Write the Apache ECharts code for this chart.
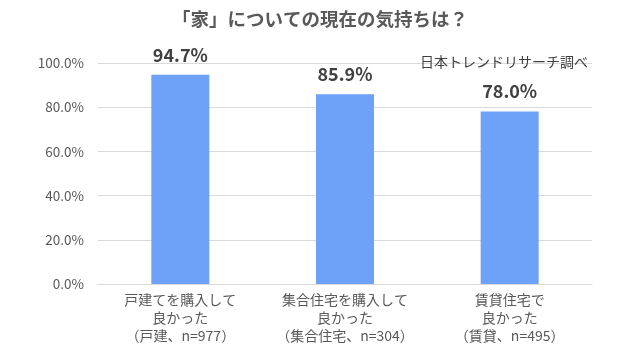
<!DOCTYPE html>
<html><head><meta charset="utf-8">
<script src="https://cdn.jsdelivr.net/npm/echarts@6/dist/echarts.min.js"></script>
<style>html,body{margin:0;padding:0;background:#fff}#c{width:640px;height:360px}</style>
</head><body><div id="c"></div>
<script>
const categories = ['戸建てを購入して\n良かった\n（戸建、n=977）', '集合住宅を購入して\n良かった\n（集合住宅、n=304）', '賃貸住宅で\n良かった\n（賃貸、n=495）'];
const values = [94.7, 85.9, 78.0];
const titleText = '「家」についての現在の気持ちは？';
const sourceText = '日本トレンドリサーチ調べ';
const font = '"Noto Sans CJK JP", "Noto Sans", sans-serif';
const lines = [0, 1, 2].map(i => categories.map(c => c.split('\n')[i]));
const chart = echarts.init(document.getElementById('c'));
chart.setOption({
  animation: false,
  title: [{
    text: titleText, left: 'center', top: 5,
    textStyle: {fontFamily: font, fontSize: 18.5, fontWeight: 'bold', color: '#595959'}
  }, {
    text: sourceText, right: 47, top: 50,
    textStyle: {fontFamily: font, fontSize: 14, fontWeight: 'normal', color: '#404040'}
  }],
  grid: {left: 98, right: 48, top: 63, bottom: 76},
  xAxis: lines.map((ln, i) => ({
    type: 'category', data: ln, position: 'bottom',
    axisLine: {show: i === 0, lineStyle: {color: '#d9d9d9'}},
    axisTick: {show: false},
    splitLine: {show: false},
    axisLabel: {interval: 0, margin: 9 + i * 18, fontFamily: font, fontSize: 14, color: '#595959', align: 'center'}
  })),
  yAxis: {
    type: 'value', min: 0, max: 100, interval: 20,
    axisLabel: {formatter: v => v.toFixed(1) + '%', fontFamily: font, fontSize: 13.5, color: '#595959', margin: 14},
    splitLine: {lineStyle: {color: '#d9d9d9'}},
    axisLine: {show: false}, axisTick: {show: false}
  },
  series: [{
    type: 'bar', data: values, barWidth: 58, xAxisIndex: 0,
    itemStyle: {color: '#6EA1F8'},
    label: {show: true, position: 'top', distance: 11, formatter: p => p.value.toFixed(1) + '%',
      fontFamily: font, fontSize: 18, fontWeight: 'bold', color: '#404040'}
  }]
});
</script></body></html>
